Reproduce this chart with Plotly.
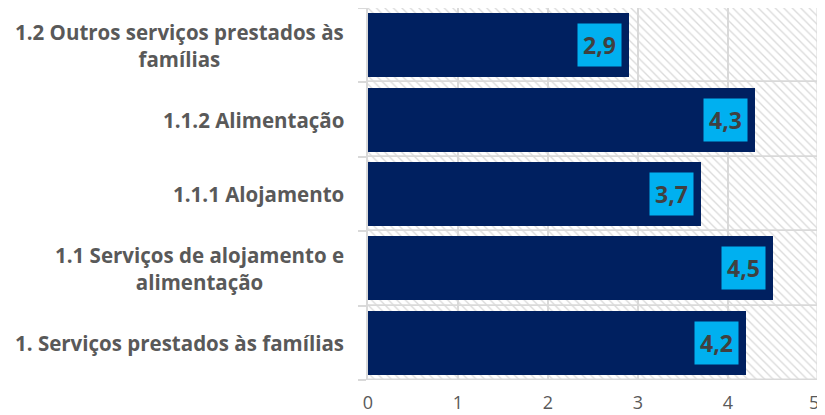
import plotly.graph_objects as go

# categories from bottom to top
categories = [
    "1. Serviços prestados às famílias",
    "1.1 Serviços de alojamento e<br>alimentação",
    "1.1.1 Alojamento",
    "1.1.2 Alimentação",
    "1.2 Outros serviços prestados às<br>famílias",
]
values = [4.2, 4.5, 3.7, 4.3, 2.9]
value_labels = ["4,2", "4,5", "3,7", "4,3", "2,9"]
axis_max = 5
x_ticks = [0, 1, 2, 3, 4, 5]

FONT = "Open Sans, sans-serif"

fig = go.Figure()

# hatched background behind each category
fig.add_trace(go.Bar(
    y=categories, x=[axis_max] * len(categories), orientation="h", width=1,
    marker=dict(color="rgba(0,0,0,0)",
                line=dict(color="#d9d9d9", width=1.5),
                pattern=dict(shape="\\", fgcolor="#dadada", size=6, solidity=0.22,
                             fillmode="replace")),
    hoverinfo="skip", showlegend=False,
))

fig.add_trace(go.Bar(
    y=categories, x=values, orientation="h", width=0.86,
    marker=dict(color="#002060", line=dict(width=0)),
    showlegend=False,
))

annotations = []
for cat, v, lab in zip(categories, values, value_labels):
    annotations.append(dict(
        x=v, y=cat, xref="x", yref="y", text="<b>" + lab + "</b>", showarrow=False,
        xanchor="right", xshift=-7, bgcolor="#00b0f0", borderpad=5,
        font=dict(family=FONT, size=23, color="#404040"),
    ))
    annotations.append(dict(
        x=-0.05, y=cat, xref="paper", yref="y", text="<b>" + cat + "</b>", showarrow=False,
        xanchor="right", align="center",
        font=dict(family=FONT, size=20.5, color="#595959"),
    ))

# last tick label drawn as an annotation, nudged left so it stays on the page
tick_text = [str(t) for t in x_ticks[:-1]] + [""]
annotations.append(dict(
    x=x_ticks[-1], y=0, xref="x", yref="paper", text=str(x_ticks[-1]), showarrow=False,
    xanchor="center", yanchor="top", xshift=-4, yshift=-8,
    font=dict(family=FONT, size=18, color="#595959"),
))

# page has an 8px body margin, so the figure is a bit smaller than the window
fig.update_layout(
    width=817, height=407,
    margin=dict(l=360, r=7, t=0, b=35),
    paper_bgcolor="white", plot_bgcolor="white",
    barmode="overlay", bargap=0,
    annotations=annotations,
    xaxis=dict(range=[0, axis_max], tickvals=x_ticks, ticktext=tick_text, showgrid=True,
               gridcolor="#d9d9d9", gridwidth=1.5, zeroline=False, automargin=False,
               tickfont=dict(family=FONT, size=18, color="#595959"),
               ticks="", showline=False, ticklabelstandoff=10),
    yaxis=dict(showticklabels=False, ticks="outside", tickson="boundaries",
               ticklen=8, tickcolor="#d9d9d9", tickwidth=1.5, automargin=False,
               showline=True, linecolor="#d9d9d9", linewidth=1.5,
               range=[-0.5, 4.5]),
)

fig.write_html("out.html")
